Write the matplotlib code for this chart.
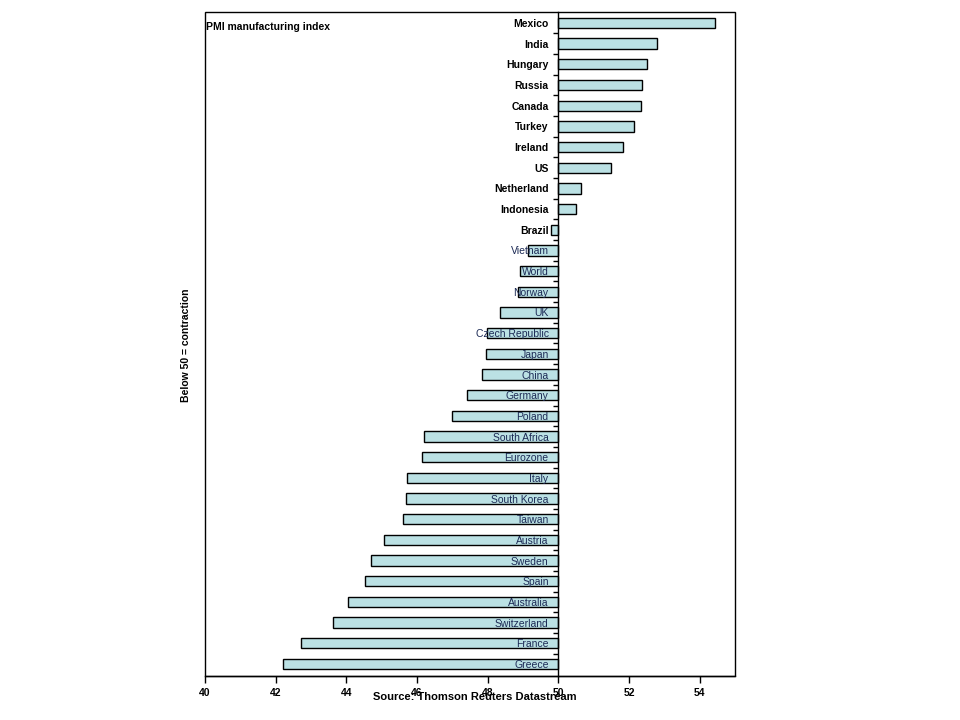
import matplotlib
matplotlib.use("Agg")
import matplotlib.pyplot as plt
from matplotlib.patches import Rectangle
import numpy as np

plt.rcParams['font.family'] = ['Liberation Sans', 'DejaVu Sans']

countries = ["Mexico", "India", "Hungary", "Russia", "Canada", "Turkey", "Ireland", "US",
             "Netherland", "Indonesia", "Brazil", "Vietnam", "World", "Norway", "UK",
             "Czech Republic", "Japan", "China", "Germany", "Poland", "South Africa",
             "Eurozone", "Italy", "South Korea", "Taiwan", "Austria", "Sweden", "Spain",
             "Australia", "Switzerland", "France", "Greece"]
values = [54.42, 52.80, 52.52, 52.38, 52.35, 52.15, 51.84, 51.50,
          50.65, 50.51, 49.80, 49.15, 48.92, 48.87, 48.36,
          47.99, 47.96, 47.85, 47.42, 47.00, 46.20,
          46.15, 45.72, 45.69, 45.61, 45.07, 44.70, 44.53,
          44.05, 43.63, 42.72, 42.21]
x_ticks = [40, 42, 44, 46, 48, 50, 52, 54]
baseline = 50

fig = plt.figure(figsize=(9.6, 7.2), dpi=100)
ax = fig.add_axes([205/960, 1-676/720, 530/960, 664/720])
ax.set_axisbelow(False)

n = len(countries)
ypos = np.arange(n)[::-1]
vals = np.array(values)
ax.barh(ypos, vals - baseline, left=baseline, height=0.5,
        color='#BBE1E4', edgecolor='black', linewidth=1.0, zorder=2)

ax.set_xlim(40, 55)
ax.set_ylim(-0.58, n - 1 + 0.53)

ax.spines['left'].set_position(('data', baseline))
for s in ['right', 'top']:
    ax.spines[s].set_visible(False)
ax.spines['left'].set_linewidth(1.0)
ax.spines['left'].set_zorder(3)
ax.add_patch(Rectangle((0, 0), 1, 1, transform=ax.transAxes, fill=False,
                       edgecolor='black', linewidth=1.0, clip_on=False, zorder=4))

ax.set_yticks(ypos)
ax.set_yticklabels(countries)
ax.set_yticks(np.arange(n - 1) + 0.5, minor=True)
ax.tick_params(axis='y', which='major', length=0, pad=7)
ax.tick_params(axis='y', which='minor', length=3.5, width=1, direction='out')
for lab, v in zip(ax.get_yticklabels(), values):
    lab.set_fontsize(7.5)
    if v >= 49.8:
        lab.set_fontweight('bold')
        lab.set_color('black')
    else:
        lab.set_fontweight('normal')
        lab.set_color('#1c2a55')

ax.set_xticks(x_ticks)
ax.set_xticklabels([str(t) for t in x_ticks], fontsize=7.5, fontweight='bold')
ax.tick_params(axis='x', which='major', length=5, width=1, direction='out', pad=4)
ax.xaxis.set_ticks_position('bottom')
ax.spines['bottom'].set_linewidth(1.0)

ax.text(0.002, 0.985, "PMI manufacturing index", transform=ax.transAxes,
        fontsize=7.5, fontweight='bold', ha='left', va='top')
fig.text(186/960, 1-345/720, "Below 50 = contraction", rotation=90,
         fontsize=7.5, fontweight='bold', ha='center', va='center')
fig.text(475/960, 1-697/720, "Source: Thomson Reuters Datastream",
         fontsize=8, fontweight='bold', ha='center', va='center')

fig.savefig("out.png", dpi=100)
